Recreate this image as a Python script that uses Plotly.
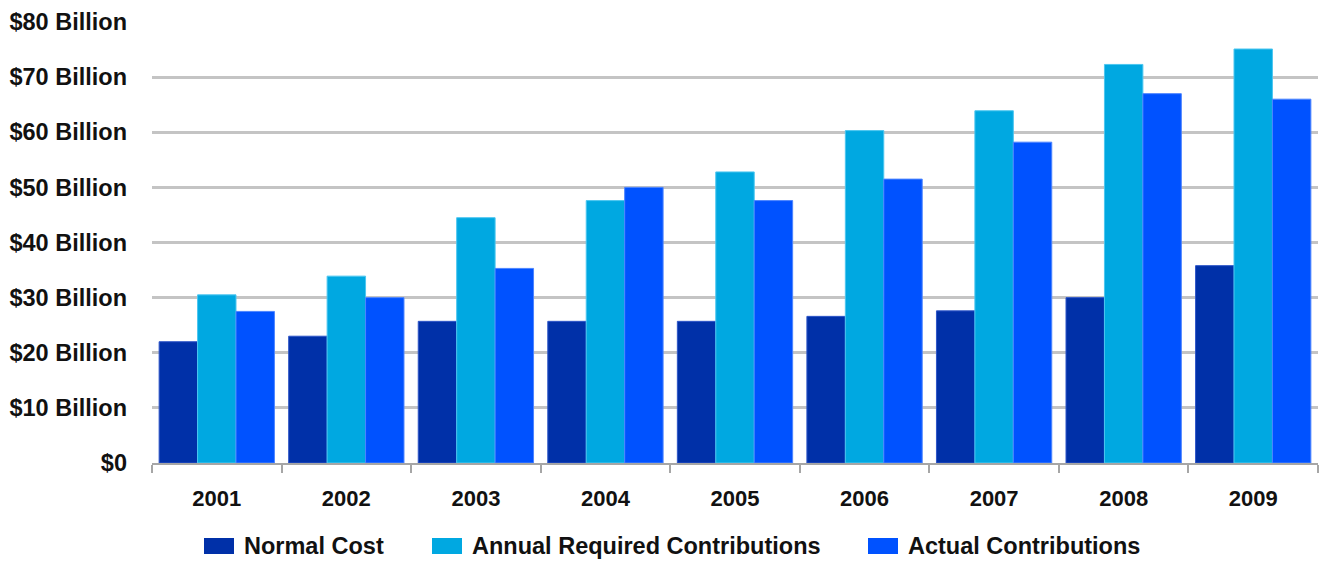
import plotly.graph_objects as go

# Pension funding by year, in billions of dollars
years = ["2001", "2002", "2003", "2004", "2005", "2006", "2007", "2008", "2009"]
normal_cost = [22.0, 23.0, 25.7, 25.7, 25.7, 26.6, 27.6, 30.0, 35.8]
annual_required = [30.5, 33.9, 44.5, 47.6, 52.8, 60.3, 63.9, 72.3, 75.1]
actual_contrib = [27.5, 30.0, 35.3, 50.0, 47.6, 51.5, 58.2, 67.0, 66.0]

series_names = ["Normal Cost", "Annual Required Contributions", "Actual Contributions"]
series_values = [normal_cost, annual_required, actual_contrib]
fill_colors = ["#0030A8", "#00A8E1", "#0052FF"]
edge_colors = ["#2D55C8", "#4CC6F0", "#4C84FF"]

y_ticks = [0, 10, 20, 30, 40, 50, 60, 70, 80]
y_tick_text = ["$0", "$10 Billion", "$20 Billion", "$30 Billion", "$40 Billion",
               "$50 Billion", "$60 Billion", "$70 Billion", "$80 Billion"]

FONT = "Liberation Sans, Arial, sans-serif"
TEXT_COLOR = "#111111"

W, H = 1321, 563
M_L, M_R, M_T, M_B = 152, 3, 22, 100
PLOT_W = W - M_L - M_R
PLOT_H = H - M_T - M_B


def px_to_paper_x(px):
    return (px - M_L) / PLOT_W


def px_to_paper_y(py):
    return (H - M_B - py) / PLOT_H


fig = go.Figure()
for name, vals, fc, ec in zip(series_names, series_values, fill_colors, edge_colors):
    fig.add_trace(go.Bar(
        x=years, y=vals, name=name, showlegend=False,
        marker=dict(color=fc, line=dict(color=ec, width=1)),
    ))

# legend drawn below the axis: wide colour keys followed by bold labels
key_left = [204, 432, 868]
key_w, key_top, key_bottom = 30, 538, 554
label_gap = 10
for name, fc, kx in zip(series_names, fill_colors, key_left):
    fig.add_shape(
        type="rect", xref="paper", yref="paper",
        x0=px_to_paper_x(kx), x1=px_to_paper_x(kx + key_w),
        y0=px_to_paper_y(key_bottom), y1=px_to_paper_y(key_top),
        fillcolor=fc, line=dict(width=0), layer="above",
    )
    fig.add_annotation(
        text=name, xref="paper", yref="paper",
        x=px_to_paper_x(kx + key_w + label_gap) - 2 / PLOT_W,
        y=px_to_paper_y((key_top + key_bottom) / 2),
        xanchor="left", yanchor="middle", showarrow=False,
        font=dict(family=FONT, size=23.5, color=TEXT_COLOR, weight="bold"),
    )

fig.update_layout(
    width=W, height=H,
    margin=dict(l=M_L, r=M_R, t=M_T, b=M_B, autoexpand=False),
    paper_bgcolor="white", plot_bgcolor="white",
    barmode="group", bargap=0.11, bargroupgap=0,
    showlegend=False,
    font=dict(family=FONT, size=22, color=TEXT_COLOR, weight="bold"),
)

fig.update_xaxes(
    type="category", showgrid=False, automargin=False,
    showline=True, linecolor="#A6A6A6", linewidth=2,
    ticks="outside", tickson="boundaries", ticklen=8, tickwidth=2, tickcolor="#A6A6A6",
    tickfont=dict(family=FONT, size=22, color=TEXT_COLOR, weight="bold"),
    ticklabelstandoff=15,
)
fig.update_yaxes(
    range=[0, 80], tickvals=y_ticks, ticktext=y_tick_text, automargin=False,
    showgrid=True, gridcolor="#C4C4C4", gridwidth=3,
    showline=False, zeroline=False, ticks="", ticklabelstandoff=24,
    tickfont=dict(family=FONT, size=23.5, color=TEXT_COLOR, weight="bold"),
)

fig.write_html("out.html")
